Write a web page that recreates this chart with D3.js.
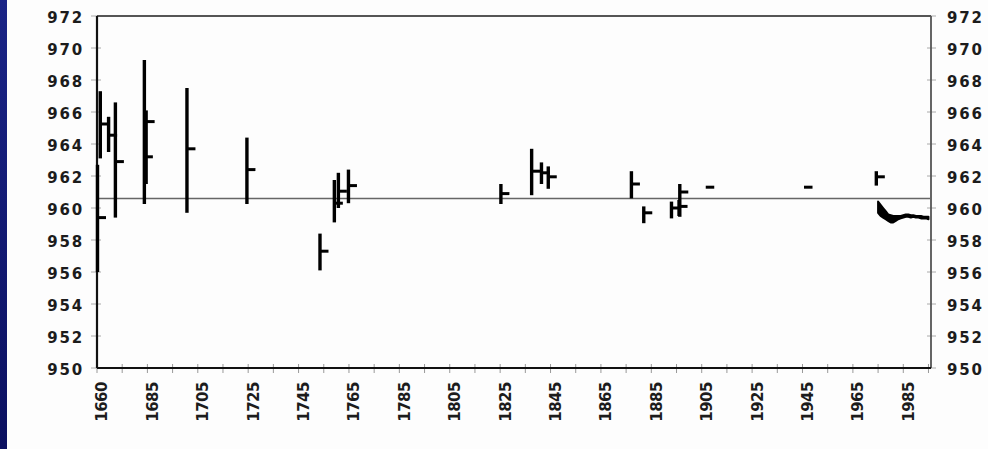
<!DOCTYPE html>
<html>
<head>
<meta charset="utf-8">
<script src="https://cdn.jsdelivr.net/npm/d3@7"></script>
<style>
  html, body { margin: 0; padding: 0; background: #fdfdfd; }
  svg { display: block; }
  .lbl { font-family: "DejaVu Sans", sans-serif; font-weight: bold; font-size: 15px; fill: #1c1c1c; }
</style>
</head>
<body>
<svg id="chart" width="988" height="449"></svg>
<script>
// range bars: year, low, high, mean
const years = [1665.2, 1666.3, 1669.6, 1672.3, 1683.8, 1684.5, 1700.7, 1724.5,
  1753.5, 1759.2, 1760.8, 1764.8, 1825.3, 1837.5, 1841.4, 1844.1,
  1877.1, 1882.0, 1893.0, 1896.3, 1896.0, 1906.6, 1945.6, 1974.3];
const lows = [956.0, 963.1, 963.5, 959.4, 960.25, 961.5, 959.7, 960.25,
  956.1, 959.1, 960.0, 960.3, 960.25, 960.8, 961.5, 961.2,
  960.6, 959.05, 959.35, 959.45, 959.5, 961.3, 961.3, 961.4];
const highs = [962.7, 967.3, 965.7, 966.6, 969.25, 966.1, 967.5, 964.4,
  958.4, 961.75, 962.2, 962.4, 961.5, 963.7, 962.85, 962.6,
  962.3, 960.1, 960.4, 961.5, 960.5, 961.3, 961.3, 962.3];
const means = [959.4, 965.25, 964.55, 962.9, 963.2, 965.4, 963.7, 962.4,
  957.3, 960.3, 961.05, 961.4, 960.9, 962.3, 962.2, 961.95,
  961.5, 959.7, 960.0, 961.0, 960.1, 961.3, 961.3, 961.95];

// recent continuous record (annual spread)
const recentYears = [1975, 1976, 1977, 1978, 1979, 1980, 1981, 1982, 1983, 1984, 1985,
  1986, 1987, 1988, 1989, 1990, 1991, 1992, 1993, 1994, 1995];
const recentLow = [959.7, 959.5, 959.4, 959.3, 959.2, 959.1, 959.1, 959.2, 959.3, 959.35, 959.4,
  959.45, 959.45, 959.4, 959.45, 959.4, 959.4, 959.35, 959.35, 959.35, 959.3];
const recentHigh = [960.4, 960.2, 960.0, 959.8, 959.6, 959.55, 959.5, 959.5, 959.5, 959.5, 959.55,
  959.6, 959.6, 959.55, 959.55, 959.5, 959.5, 959.5, 959.45, 959.45, 959.45];

const referenceLevel = 960.6;

const yTicks = [950, 952, 954, 956, 958, 960, 962, 964, 966, 968, 970, 972];
const xTicks = [1665, 1675, 1685, 1695, 1705, 1715, 1725, 1735, 1745, 1755, 1765, 1775, 1785,
  1795, 1805, 1815, 1825, 1835, 1845, 1855, 1865, 1875, 1885, 1895, 1905, 1915, 1925,
  1935, 1945, 1955, 1965, 1975, 1985, 1995];
const xLabelYears = [1665, 1685, 1705, 1725, 1745, 1765, 1785, 1805, 1825, 1845,
  1865, 1885, 1905, 1925, 1945, 1965, 1985];
const xLabelText = ["1660", "1685", "1705", "1725", "1745", "1765", "1785", "1805", "1825", "1845",
  "1865", "1885", "1905", "1925", "1945", "1965", "1985"];

const svg = d3.select('#chart');

// navy strip on the left edge
const grad = svg.append('defs').append('linearGradient')
  .attr('id', 'navy').attr('x1', 0).attr('y1', 0).attr('x2', 0).attr('y2', 1);
grad.append('stop').attr('offset', 0).attr('stop-color', '#1a2486');
grad.append('stop').attr('offset', 1).attr('stop-color', '#0b1060');
svg.append('rect').attr('x', 0).attr('y', 0).attr('width', 7).attr('height', 449)
  .attr('fill', 'url(#navy)');

const x = d3.scaleLinear().domain([1665, 1996]).range([97, 931]);
const y = d3.scaleLinear().domain([950, 972]).range([368, 16]);

const [x0, x1] = x.range();
const [yb, yt] = y.range();

// tick marks
svg.append('g').selectAll('line').data(yTicks).join('line')
  .attr('x1', x0 - 6).attr('x2', x0 + 4)
  .attr('y1', d => y(d)).attr('y2', d => y(d))
  .attr('stroke', '#aaa').attr('stroke-width', 1);
svg.append('g').selectAll('line').data(yTicks).join('line')
  .attr('x1', x1 - 4).attr('x2', x1 + 5)
  .attr('y1', d => y(d)).attr('y2', d => y(d))
  .attr('stroke', '#aaa').attr('stroke-width', 1);
svg.append('g').selectAll('line').data(xTicks).join('line')
  .attr('x1', d => x(d)).attr('x2', d => x(d))
  .attr('y1', yb - 4).attr('y2', yb + 5)
  .attr('stroke', '#999').attr('stroke-width', 1);

// frame
svg.append('line').attr('x1', x0).attr('x2', x1).attr('y1', yt).attr('y2', yt)
  .attr('stroke', '#555').attr('stroke-width', 1.8);
svg.append('line').attr('x1', x1).attr('x2', x1).attr('y1', yt).attr('y2', yb)
  .attr('stroke', '#555').attr('stroke-width', 1.8);
svg.append('line').attr('x1', x0).attr('x2', x0).attr('y1', yt).attr('y2', yb)
  .attr('stroke', '#111').attr('stroke-width', 2.2);
svg.append('line').attr('x1', x0).attr('x2', x1).attr('y1', yb).attr('y2', yb)
  .attr('stroke', '#111').attr('stroke-width', 2.2);

// reference level
svg.append('line').attr('x1', x0).attr('x2', x1)
  .attr('y1', y(referenceLevel)).attr('y2', y(referenceLevel))
  .attr('stroke', '#666').attr('stroke-width', 1.5);

// labels
svg.append('g').selectAll('text').data(yTicks).join('text')
  .attr('class', 'lbl')
  .attr('x', 84).attr('y', d => y(d) + 2).attr('dy', '0.36em')
  .attr('text-anchor', 'end').attr('letter-spacing', 1.8)
  .text(d => d);
svg.append('g').selectAll('text').data(yTicks).join('text')
  .attr('class', 'lbl')
  .attr('x', 947).attr('y', d => y(d) + 2).attr('dy', '0.36em')
  .attr('text-anchor', 'start').attr('letter-spacing', 1.8)
  .text(d => d);
svg.append('g').selectAll('text').data(xLabelYears).join('text')
  .attr('class', 'lbl')
  .attr('transform', d => `translate(${x(d) + 5},382) rotate(-90)`)
  .attr('dy', '0.36em')
  .attr('text-anchor', 'end').attr('letter-spacing', -0.5)
  .text((d, i) => xLabelText[i]);

// range bars
const idx = d3.range(years.length);
svg.append('g').selectAll('line').data(idx).join('line')
  .attr('x1', i => x(years[i])).attr('x2', i => x(years[i]))
  .attr('y1', i => y(highs[i])).attr('y2', i => y(lows[i]))
  .attr('stroke', '#000').attr('stroke-width', 3.4);
svg.append('g').selectAll('line').data(idx).join('line')
  .attr('x1', i => x(years[i])).attr('x2', i => x(years[i]) + 8.5)
  .attr('y1', i => y(means[i])).attr('y2', i => y(means[i]))
  .attr('stroke', '#000').attr('stroke-width', 3);

// recent record band
const band = d3.area()
  .x((d, i) => x(recentYears[i]))
  .y0((d, i) => y(recentLow[i]))
  .y1((d, i) => y(recentHigh[i]));
svg.append('path').datum(recentYears)
  .attr('d', band)
  .attr('fill', '#000').attr('stroke', '#000').attr('stroke-width', 2)
  .attr('stroke-linejoin', 'round');
</script>
</body>
</html>
